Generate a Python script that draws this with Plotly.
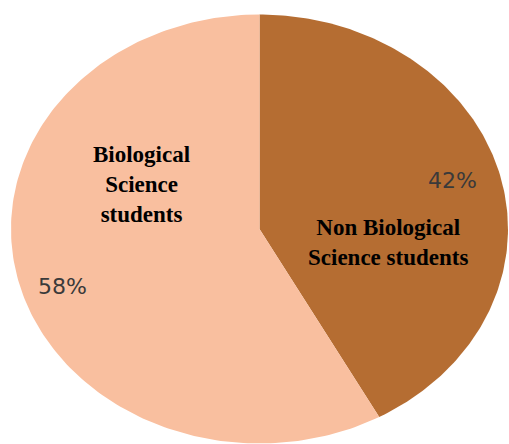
import numpy as np
import plotly.graph_objects as go

labels = ["Non Biological<br>Science students", "Biological<br>Science<br>students"]
values = [42, 58]
pct_text = ["42%", "58%"]
colors = ["#B56D32", "#F9BF9F"]

W, H = 509, 444
cx, cy, rx, ry = 259.5, 229.0, 248.5, 214.5

fig = go.Figure()
total = sum(values)
start = 0.0
for lab, v, col in zip(labels, values, colors):
    end = start + v / total * 2 * np.pi
    th = np.linspace(start, end, 200)
    xs = np.concatenate([[cx], cx + rx * np.sin(th), [cx]])
    ys = np.concatenate([[cy], cy - ry * np.cos(th), [cy]])
    fig.add_trace(go.Scatter(x=xs, y=ys, mode="lines", fill="toself",
                             fillcolor=col, line=dict(width=0, color=col),
                             hoverinfo="skip", showlegend=False))
    start = end

# label annotations
fig.add_annotation(x=388, y=242, text="<b>" + labels[0] + "</b>", showarrow=False,
                   font=dict(family="Liberation Serif", size=23, color="#000000"))
fig.add_annotation(x=141, y=184, text="<b>" + labels[1] + "</b>", showarrow=False,
                   font=dict(family="Liberation Serif", size=23, color="#000000"))
fig.add_annotation(x=452, y=180, text=pct_text[0], showarrow=False,
                   font=dict(family="DejaVu Sans", size=22, color="#3A3A3A"))
fig.add_annotation(x=62, y=286, text=pct_text[1], showarrow=False,
                   font=dict(family="DejaVu Sans", size=22, color="#3A3A3A"))

fig.update_layout(width=W, height=H, margin=dict(l=0, r=0, t=0, b=0),
                  paper_bgcolor="white", plot_bgcolor="white",
                  xaxis=dict(range=[0, W], visible=False, fixedrange=True),
                  yaxis=dict(range=[H, 0], visible=False, fixedrange=True))
fig.write_html("out.html")
